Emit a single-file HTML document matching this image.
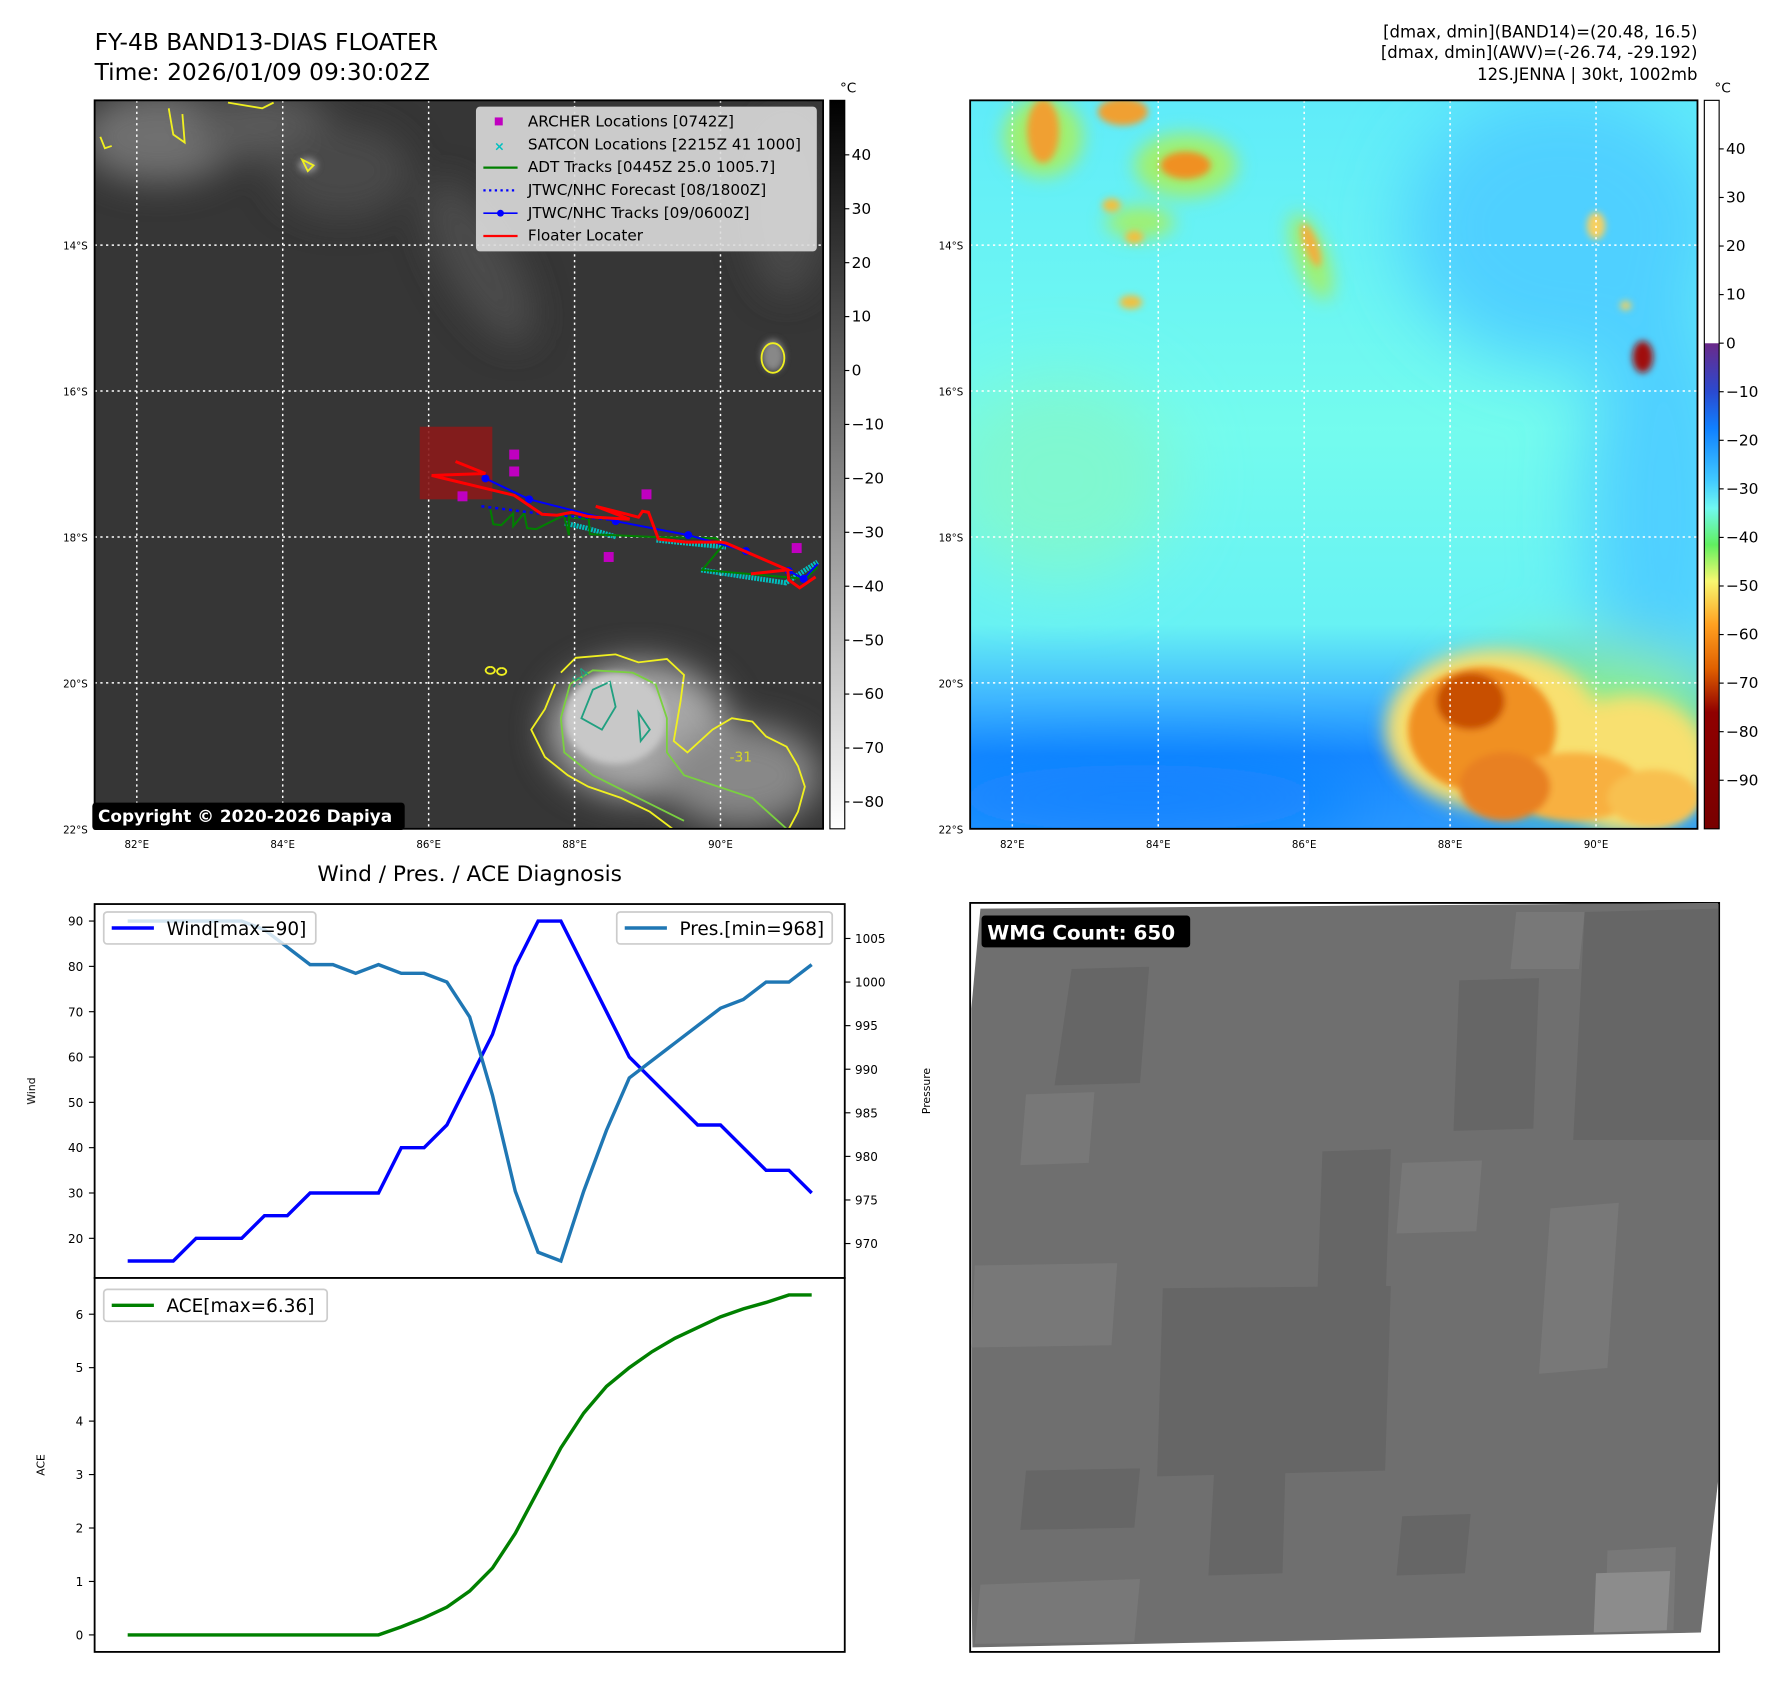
<!DOCTYPE html>
<html><head><meta charset="utf-8">
<style>
html,body{margin:0;padding:0;background:#fff;}
svg{display:block;font-family:"DejaVu Sans","Liberation Sans",sans-serif;}
</style></head>
<body>
<svg id="root" width="1788" height="1690" viewBox="0 0 1568.4 1482.4" xmlns="http://www.w3.org/2000/svg">
<defs>
  <filter id="b3" x="-30%" y="-30%" width="160%" height="160%"><feGaussianBlur stdDeviation="3"/></filter>
  <filter id="b8" x="-30%" y="-30%" width="160%" height="160%"><feGaussianBlur stdDeviation="8"/></filter>
  <filter id="b15" x="-30%" y="-30%" width="160%" height="160%"><feGaussianBlur stdDeviation="15"/></filter>
  <filter id="b30" x="-50%" y="-50%" width="200%" height="200%"><feGaussianBlur stdDeviation="30"/></filter>
  <clipPath id="clipL"><rect x="83" y="88" width="639" height="639"/></clipPath>
  <clipPath id="clipR"><rect x="851" y="88" width="638" height="639"/></clipPath>
  <linearGradient id="cbGray" x1="0" y1="0" x2="0" y2="1">
    <stop offset="0" stop-color="#000"/><stop offset="1" stop-color="#fff"/>
  </linearGradient>
  <linearGradient id="cbColor" x1="0" y1="0" x2="0" y2="1">
    <stop offset="0" stop-color="#fff"/><stop offset="0.333" stop-color="#fff"/>
    <stop offset="0.334" stop-color="#6a2a8a"/>
    <stop offset="0.40" stop-color="#2a4ad0"/>
    <stop offset="0.45" stop-color="#1080ff"/>
    <stop offset="0.52" stop-color="#40c8ff"/>
    <stop offset="0.56" stop-color="#70f8f0"/>
    <stop offset="0.61" stop-color="#60f060"/>
    <stop offset="0.66" stop-color="#f8f870"/>
    <stop offset="0.72" stop-color="#ffa020"/>
    <stop offset="0.78" stop-color="#e06000"/>
    <stop offset="0.84" stop-color="#900000"/>
    <stop offset="1" stop-color="#780000"/>
  </linearGradient>
  <linearGradient id="rbg" x1="0" y1="0" x2="0" y2="1">
    <stop offset="0" stop-color="#60ecfa"/>
    <stop offset="0.45" stop-color="#74fcee"/>
    <stop offset="0.72" stop-color="#68f2f4"/>
    <stop offset="0.82" stop-color="#40b8ff"/>
    <stop offset="0.9" stop-color="#1888ff"/>
    <stop offset="1" stop-color="#2a98ff"/>
  </linearGradient>
</defs>

<!-- Titles -->
<text x="83" y="44" font-size="20.5" fill="#000">FY-4B BAND13-DIAS FLOATER</text>
<text x="83" y="70" font-size="20.5" fill="#000">Time: 2026/01/09 09:30:02Z</text>
<g font-size="14.5" text-anchor="end" fill="#000">
  <text x="1489" y="33">[dmax, dmin](BAND14)=(20.48, 16.5)</text>
  <text x="1489" y="51">[dmax, dmin](AWV)=(-26.74, -29.192)</text>
  <text x="1489" y="70">12S.JENNA | 30kt, 1002mb</text>
</g>

<!-- LEFT MAP -->
<g clip-path="url(#clipL)">
  <rect x="83" y="88" width="639" height="639" fill="#363636"/>
  <g filter="url(#b15)">
    <ellipse cx="140" cy="120" rx="70" ry="40" fill="#707070"/>
    <ellipse cx="230" cy="110" rx="60" ry="30" fill="#5a5a5a"/>
    <ellipse cx="300" cy="150" rx="60" ry="40" fill="#4a4a4a"/>
    <ellipse cx="420" cy="230" rx="30" ry="80" fill="#4c4c4c" transform="rotate(-30 420 230)"/>
    <ellipse cx="690" cy="180" rx="35" ry="80" fill="#4a4a4a"/>
    <ellipse cx="560" cy="640" rx="80" ry="60" fill="#a8a8a8"/>
    <ellipse cx="650" cy="680" rx="70" ry="45" fill="#888"/>
  </g>
  <g filter="url(#b3)">
    <ellipse cx="540" cy="630" rx="45" ry="40" fill="#c8c8c8"/>
    <ellipse cx="678" cy="312" rx="10" ry="14" fill="#888"/>
    <ellipse cx="270" cy="145" rx="8" ry="6" fill="#999"/>
  </g>
  <g fill="none" stroke-width="1.6">
    <path d="M492,590 L505,577 L540,574 L560,581 L585,578 L600,592 L597,615 L591,650 L603,660 L625,640 L642,630 L660,633 L672,646 L690,655 L700,672 L706,690 L700,712 L692,727 M487,600 L478,622 L466,640 L478,664 L498,680 L516,690 L545,700 L570,712 L590,727" stroke="#f0f020"/>
    <path d="M500,600 L520,588 L555,590 L575,600 L585,630 L585,660 L600,680 L630,690 L660,700 L690,727 M500,600 L492,630 L495,660 L520,680 L560,700 L600,720" stroke="#7ad040"/>
    <path d="M520,605 L535,598 L540,620 L528,640 L510,630 Z M560,625 L570,640 L562,650 Z" stroke="#20a080"/>
    <ellipse cx="678" cy="314" rx="10" ry="13" stroke="#f0f020"/>
    <path d="M88,120 L92,130 L98,128 M148,95 L152,118 L162,125 L160,100 M265,140 L275,145 L270,150 Z M200,90 L230,95 L240,90" stroke="#f0f020"/>
    <path d="M430,585 a4,3 0 1,0 0.1,0 M440,586 a4,3 0 1,0 0.1,0" stroke="#f0f020"/>
  </g>
  <text x="505" y="605" font-size="12" fill="#20a080" transform="rotate(-50 505 605)">-54</text>
  <text x="640" y="668" font-size="12" fill="#d8d820">-31</text>
  <g stroke="#fff" stroke-width="1.3" stroke-dasharray="2,3">
    <line x1="120" y1="88" x2="120" y2="727"/><line x1="248" y1="88" x2="248" y2="727"/>
    <line x1="376" y1="88" x2="376" y2="727"/><line x1="504" y1="88" x2="504" y2="727"/>
    <line x1="632" y1="88" x2="632" y2="727"/>
    <line x1="83" y1="215" x2="722" y2="215"/><line x1="83" y1="343" x2="722" y2="343"/>
    <line x1="83" y1="471" x2="722" y2="471"/><line x1="83" y1="599" x2="722" y2="599"/>
  </g>
  <g transform="scale(0.87245)">
    <rect x="422" y="429" width="73" height="73" fill="#8b1a1a" opacity="0.9"/>
    <polyline fill="none" stroke="#00c0c0" stroke-width="5" stroke-dasharray="2,1" points="568,526 590,531 620,540"/>
    <polyline fill="none" stroke="#00c0c0" stroke-width="5" stroke-dasharray="2,1" points="660,543 700,547 730,550"/>
    <polyline fill="none" stroke="#00c0c0" stroke-width="5" stroke-dasharray="2,1" points="705,573 750,580 790,586 822,565"/>
    <polyline fill="none" stroke="#008000" stroke-width="2" points="493,512 496,527 504,528 516,516 516,529 527,516 530,531 539,532 567,518 572,538 572,520 592,522 593,537 660,540 720,541 727,548 706,573 810,582 822,570"/>
    <polyline fill="none" stroke="#0000ff" stroke-width="2.5" stroke-dasharray="3,4" points="484,509 540,516 620,523"/>
    <polyline fill="none" stroke="#0000ff" stroke-width="2" points="488,481 532,502 619,524 692,538 750,554 793,574 808,582 822,567"/>
    <g fill="#0000ff"><circle cx="488" cy="481" r="4"/><circle cx="532" cy="502" r="4"/><circle cx="619" cy="524" r="4"/><circle cx="692" cy="538" r="4"/><circle cx="750" cy="554" r="4"/><circle cx="793" cy="574" r="4"/><circle cx="808" cy="582" r="4"/></g>
    <polyline fill="none" stroke="#ff0000" stroke-width="3" points="458,464 488,476 434,478 517,498 545,517 560,518 575,515 590,519 599,520 633,522 599,509 642,520 646,514 652,515 662,542 690,545 725,545 730,546 792,573 755,577 792,573 793,583 804,591 820,580"/>
    <g fill="#c000c0">
      <rect x="512" y="452" width="10" height="10"/><rect x="512" y="469" width="10" height="10"/>
      <rect x="460" y="494" width="10" height="10"/><rect x="645" y="492" width="10" height="10"/>
      <rect x="607" y="555" width="10" height="10"/><rect x="796" y="546" width="10" height="10"/>
    </g>
  </g>
</g>
<rect x="83" y="88" width="639" height="639" fill="none" stroke="#000" stroke-width="1.6"/>
<g>
  <rect x="418" y="94" width="298" height="126" rx="3" fill="#dcdcdc" fill-opacity="0.9" stroke="#ccc"/>
  <rect x="434" y="103" width="7" height="7" fill="#c000c0"/>
  <text x="438" y="132" font-size="11" fill="#00c0c0" text-anchor="middle" font-weight="bold">×</text>
  <line x1="424" y1="147" x2="454" y2="147" stroke="#008000" stroke-width="2"/>
  <line x1="424" y1="167" x2="454" y2="167" stroke="#0000ff" stroke-width="2" stroke-dasharray="2,3"/>
  <line x1="424" y1="187" x2="454" y2="187" stroke="#0000ff" stroke-width="1.5"/><circle cx="439" cy="187" r="3" fill="#0000ff"/>
  <line x1="424" y1="207" x2="454" y2="207" stroke="#ff0000" stroke-width="2"/>
  <g font-size="13.4" fill="#000">
    <text x="463" y="111">ARCHER Locations [0742Z]</text>
    <text x="463" y="131">SATCON Locations [2215Z 41 1000]</text>
    <text x="463" y="151">ADT Tracks [0445Z 25.0 1005.7]</text>
    <text x="463" y="171">JTWC/NHC Forecast [08/1800Z]</text>
    <text x="463" y="191">JTWC/NHC Tracks [09/0600Z]</text>
    <text x="463" y="211">Floater Locater</text>
  </g>
</g>
<g>
  <rect x="81" y="704" width="274" height="24" rx="3" fill="#000"/>
  <text x="86" y="721" font-size="14.8" font-weight="bold" fill="#fff">Copyright © 2020-2026 Dapiya</text>
</g>
<g font-size="9" fill="#000">
  <text x="77" y="219" text-anchor="end">14°S</text><text x="77" y="347" text-anchor="end">16°S</text>
  <text x="77" y="475" text-anchor="end">18°S</text><text x="77" y="603" text-anchor="end">20°S</text>
  <text x="77" y="731" text-anchor="end">22°S</text>
  <text x="120" y="744" text-anchor="middle">82°E</text><text x="248" y="744" text-anchor="middle">84°E</text>
  <text x="376" y="744" text-anchor="middle">86°E</text><text x="504" y="744" text-anchor="middle">88°E</text>
  <text x="632" y="744" text-anchor="middle">90°E</text>
</g>
<g>
  <rect x="728" y="88" width="13" height="639" fill="url(#cbGray)" stroke="#000" stroke-width="1"/>
  <text x="744" y="81" font-size="12" text-anchor="middle">°C</text>
  <g id="cbL" font-size="13.5"></g>
</g>

<!-- RIGHT MAP -->
<g clip-path="url(#clipR)">
  <rect x="851" y="88" width="638" height="639" fill="url(#rbg)"/>
  <g filter="url(#b30)">
    <ellipse cx="1370" cy="200" rx="140" ry="120" fill="#50d0ff"/>
    <ellipse cx="1460" cy="450" rx="70" ry="200" fill="#50d0ff"/>
    <ellipse cx="930" cy="420" rx="100" ry="90" fill="#80f8d0"/>
    <ellipse cx="1000" cy="700" rx="200" ry="30" fill="#1080ff"/>
    <ellipse cx="1400" cy="640" rx="120" ry="70" fill="#90f080"/>
  </g>
  <g filter="url(#b8)">
    <ellipse cx="915" cy="120" rx="35" ry="35" fill="#a0f070"/>
    <ellipse cx="1040" cy="145" rx="45" ry="28" fill="#a0f070"/>
    <ellipse cx="1000" cy="195" rx="30" ry="14" fill="#a0f070"/>
    <ellipse cx="1150" cy="225" rx="14" ry="40" fill="#a0f070" transform="rotate(-20 1150 225)"/>
    <ellipse cx="1310" cy="640" rx="95" ry="70" fill="#f8e070"/>
    <ellipse cx="1430" cy="670" rx="70" ry="60" fill="#f8e070"/>
  </g>
  <g filter="url(#b3)">
    <ellipse cx="915" cy="115" rx="14" ry="28" fill="#f0a030"/>
    <ellipse cx="985" cy="98" rx="22" ry="12" fill="#f0a030"/>
    <ellipse cx="1040" cy="145" rx="22" ry="12" fill="#f09020"/>
    <ellipse cx="975" cy="180" rx="8" ry="6" fill="#f0c040"/>
    <ellipse cx="995" cy="208" rx="8" ry="6" fill="#f0c040"/>
    <ellipse cx="992" cy="265" rx="10" ry="6" fill="#f0c040"/>
    <ellipse cx="1150" cy="215" rx="6" ry="20" fill="#f0b040" transform="rotate(-20 1150 215)"/>
    <ellipse cx="1400" cy="198" rx="8" ry="12" fill="#f8d060"/>
    <ellipse cx="1426" cy="268" rx="5" ry="4" fill="#f0d060"/>
    <ellipse cx="1441" cy="313" rx="9" ry="14" fill="#a01010"/>
    <ellipse cx="1300" cy="640" rx="65" ry="55" fill="#f09020"/>
    <ellipse cx="1380" cy="690" rx="60" ry="30" fill="#f8b040"/>
    <ellipse cx="1290" cy="615" rx="30" ry="25" fill="#c85000"/>
    <ellipse cx="1320" cy="690" rx="40" ry="30" fill="#e88020"/>
    <ellipse cx="1450" cy="700" rx="40" ry="25" fill="#f8c050"/>
  </g>
  <g stroke="#fff" stroke-width="1.3" stroke-dasharray="2,3">
    <line x1="888" y1="88" x2="888" y2="727"/><line x1="1016" y1="88" x2="1016" y2="727"/>
    <line x1="1144" y1="88" x2="1144" y2="727"/><line x1="1272" y1="88" x2="1272" y2="727"/>
    <line x1="1400" y1="88" x2="1400" y2="727"/>
    <line x1="851" y1="215" x2="1489" y2="215"/><line x1="851" y1="343" x2="1489" y2="343"/>
    <line x1="851" y1="471" x2="1489" y2="471"/><line x1="851" y1="599" x2="1489" y2="599"/>
  </g>
</g>
<rect x="851" y="88" width="638" height="639" fill="none" stroke="#000" stroke-width="1.6"/>
<g font-size="9" fill="#000">
  <text x="845" y="219" text-anchor="end">14°S</text><text x="845" y="347" text-anchor="end">16°S</text>
  <text x="845" y="475" text-anchor="end">18°S</text><text x="845" y="603" text-anchor="end">20°S</text>
  <text x="845" y="731" text-anchor="end">22°S</text>
  <text x="888" y="744" text-anchor="middle">82°E</text><text x="1016" y="744" text-anchor="middle">84°E</text>
  <text x="1144" y="744" text-anchor="middle">86°E</text><text x="1272" y="744" text-anchor="middle">88°E</text>
  <text x="1400" y="744" text-anchor="middle">90°E</text>
</g>
<g>
  <rect x="1495" y="88" width="13" height="639" fill="url(#cbColor)" stroke="#000" stroke-width="1"/>
  <text x="1511" y="81" font-size="12" text-anchor="middle">°C</text>
  <g id="cbR" font-size="13.5"></g>
</g>

<!-- DIAGNOSIS CHART -->
<text x="412" y="773" font-size="19" text-anchor="middle">Wind / Pres. / ACE Diagnosis</text>
<g id="chart"></g>

<!-- WMG PANEL -->
<g>
  <rect x="851" y="792" width="657" height="657" fill="#fff" stroke="#000" stroke-width="1.6"/>
  <polygon points="860,797 1507,792 1507,1300 1492,1432 853,1445 852,1390 852,885" fill="#6f6f6f"/>
  <g fill="#666">
    <polygon points="1020,1130 1220,1128 1215,1290 1015,1295"/>
    <polygon points="1070,1200 1130,1198 1125,1380 1060,1382"/>
    <polygon points="940,850 1008,848 1000,950 925,952"/>
    <polygon points="1390,800 1507,797 1507,1000 1380,1000"/>
    <polygon points="1160,1010 1220,1008 1215,1150 1155,1152"/>
    <polygon points="1280,860 1350,858 1345,990 1275,992"/>
    <polygon points="900,1290 1000,1288 995,1340 895,1342"/>
    <polygon points="1230,1330 1290,1328 1285,1380 1225,1382"/>
  </g>
  <g fill="#787878">
    <polygon points="855,1110 980,1108 975,1180 852,1182"/>
    <polygon points="1360,1060 1420,1055 1410,1200 1350,1205"/>
    <polygon points="1410,1360 1470,1357 1468,1430 1408,1432"/>
    <polygon points="860,1390 1000,1385 995,1440 855,1442"/>
    <polygon points="1330,800 1390,800 1385,850 1325,850"/>
    <polygon points="1230,1020 1300,1018 1295,1080 1225,1082"/>
    <polygon points="900,960 960,958 955,1020 895,1022"/>
  </g>
  <polygon points="1400,1380 1465,1378 1462,1430 1398,1432" fill="#8c8c8c"/>
  <rect x="861" y="803" width="183" height="28" rx="3" fill="#000"/>
  <text x="866" y="824" font-size="17.5" font-weight="bold" fill="#fff">WMG Count: 650</text>
</g>

<script>
const windValues = [15,15,15,20,20,20,25,25,30,30,30,30,40,40,45,55,65,80,90,90,80,70,60,55,50,45,45,40,35,35,30];
const presValues = [1007,1007,1007,1007,1007,1007,1006,1004,1002,1002,1001,1002,1001,1001,1000,996,987,976,969,968,976,983,989,991,993,995,997,998,1000,1000,1002];
const aceValues = [0,0,0,0,0,0,0,0,0,0,0,0,0.15,0.32,0.52,0.82,1.25,1.9,2.7,3.5,4.15,4.65,5.0,5.3,5.55,5.75,5.95,6.1,6.22,6.36,6.36];
const windTicks = [20,30,40,50,60,70,80,90];
const presTicks = [970,975,980,985,990,995,1000,1005];
const aceTicks = [0,1,2,3,4,5,6];
const grayCbTicks = [40,30,20,10,0,-10,-20,-30,-40,-50,-60,-70,-80];
const colorCbTicks = [40,30,20,10,0,-10,-20,-30,-40,-50,-60,-70,-80,-90];

const NS = "http://www.w3.org/2000/svg";
function mk(tag, attrs, parent){const e=document.createElementNS(NS,tag);for(const k in attrs)e.setAttribute(k,attrs[k]);parent.appendChild(e);return e;}
function range(a){let lo=Math.min(...a),hi=Math.max(...a),m=(hi-lo)*0.05;return [lo-m,hi+m];}

const chart = document.getElementById('chart');
const X0=83,X1=741,T1=793,B1=1121,T2=1121,B2=1449;
const n = windValues.length;
const xs = i => 112 + i*(600/(n-1));
const wr = range(windValues), pr = range(presValues), ar = range(aceValues);
const yW = v => T1 + (wr[1]-v)/(wr[1]-wr[0])*(B1-T1);
const yP = v => T1 + (pr[1]-v)/(pr[1]-pr[0])*(B1-T1);
const yA = v => T2 + (ar[1]-v)/(ar[1]-ar[0])*(B2-T2);

mk('rect',{x:X0,y:T1,width:X1-X0,height:B1-T1,fill:'#fff',stroke:'#000','stroke-width':1.6},chart);
mk('rect',{x:X0,y:T2,width:X1-X0,height:B2-T2,fill:'#fff',stroke:'#000','stroke-width':1.6},chart);

windTicks.forEach(v=>{const y=yW(v);
  mk('line',{x1:X0-5,y1:y,x2:X0,y2:y,stroke:'#000'},chart);
  const t=mk('text',{x:X0-10,y:y+4,'font-size':10.5,'text-anchor':'end'},chart);t.textContent=v;
  
  });
presTicks.forEach(v=>{const y=yP(v);
  mk('line',{x1:X1,y1:y,x2:X1+5,y2:y,stroke:'#000'},chart);
  const t=mk('text',{x:X1+9,y:y+4,'font-size':10.5},chart);t.textContent=v;
  
  });
aceTicks.forEach(v=>{const y=yA(v);
  mk('line',{x1:X0-5,y1:y,x2:X0,y2:y,stroke:'#000'},chart);
  const t=mk('text',{x:X0-10,y:y+4,'font-size':10.5,'text-anchor':'end'},chart);t.textContent=v;
  
  });

let at=mk('text',{x:31,y:957,'font-size':9.5,'text-anchor':'middle',transform:'rotate(-90 31 957)'},chart);at.textContent='Wind';


at=mk('text',{x:816,y:957,'font-size':9.5,'text-anchor':'middle',transform:'rotate(-90 816 957)'},chart);at.textContent='Pressure';


at=mk('text',{x:39,y:1285,'font-size':9.5,'text-anchor':'middle',transform:'rotate(-90 39 1285)'},chart);at.textContent='ACE';



let l=mk('polyline',{fill:'none',stroke:'#0000ff','stroke-width':3,points:windValues.map((v,i)=>xs(i)+','+yW(v)).join(' ')},chart);


l=mk('polyline',{fill:'none',stroke:'#1f77b4','stroke-width':3,points:presValues.map((v,i)=>xs(i)+','+yP(v)).join(' ')},chart);


l=mk('polyline',{fill:'none',stroke:'#008000','stroke-width':3,points:aceValues.map((v,i)=>xs(i)+','+yA(v)).join(' ')},chart);



function legend(x,y,w,color,label,name){
  const g=mk('g',{},chart);
  
  
  mk('rect',{x:x,y:y,width:w,height:28,rx:3,fill:'#fff','fill-opacity':0.8,stroke:'#ccc','stroke-width':1.5},g);
  mk('line',{x1:x+7,y1:y+14,x2:x+44,y2:y+14,stroke:color,'stroke-width':3},g);
  const t=mk('text',{x:x+55,y:y+20,'font-size':16.2},g);t.textContent=label;
}
legend(91,800,186,'#0000ff','Wind[max='+Math.max(...windValues)+']','wind-legend');
legend(541,800,189,'#1f77b4','Pres.[min='+Math.min(...presValues)+']','pressure-legend');
legend(91,1131,196,'#008000','ACE[max='+Math.max(...aceValues)+']','ace-legend');

const cbL=document.getElementById('cbL');
grayCbTicks.forEach(v=>{const y=325-v*4.73;
  mk('line',{x1:741,y1:y,x2:745,y2:y,stroke:'#000'},cbL);
  const t=mk('text',{x:747,y:y+4.5},cbL);t.textContent=(v<0?'\u2212'+(-v):v);
  
  });
const cbR=document.getElementById('cbR');
colorCbTicks.forEach(v=>{const y=301-v*4.26;
  mk('line',{x1:1508,y1:y,x2:1512,y2:y,stroke:'#000'},cbR);
  const t=mk('text',{x:1514,y:y+4.5},cbR);t.textContent=(v<0?'\u2212'+(-v):v);
  
  });
</script>
</body></html>
